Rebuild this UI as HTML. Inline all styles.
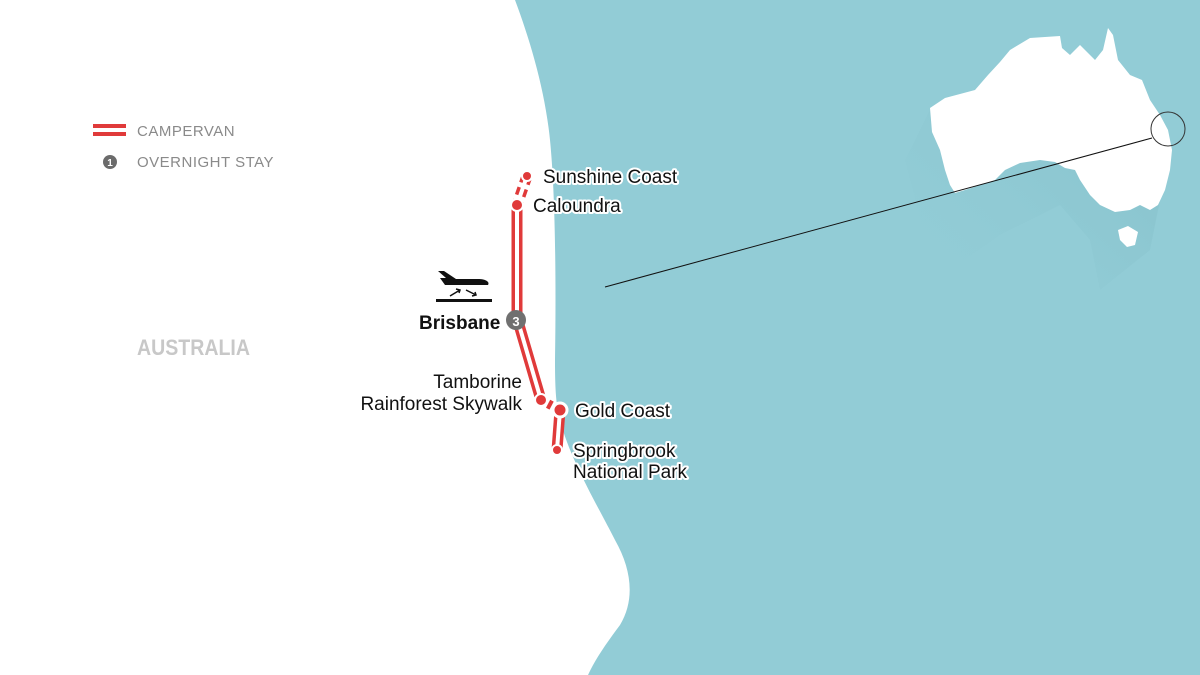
<!DOCTYPE html>
<html><head><meta charset="utf-8"><style>
html,body{margin:0;padding:0;background:#fff}
svg{display:block}
.l{font-family:"Liberation Sans Narrow","Liberation Sans",sans-serif;font-size:19px;fill:#111;paint-order:stroke;stroke:#fff;stroke-width:4px;stroke-linejoin:round}
.g{font-family:"Liberation Sans",sans-serif;font-size:15px;fill:#8a8a8a;letter-spacing:0.5px}
</style></head><body>
<svg width="1200" height="675" viewBox="0 0 1200 675" xmlns="http://www.w3.org/2000/svg">
<defs>
<linearGradient id="sh" x1="1" y1="0" x2="0" y2="1">
<stop offset="0" stop-color="#5f9aa4" stop-opacity="0.5"/>
<stop offset="1" stop-color="#8fccd6" stop-opacity="0"/>
</linearGradient>
</defs>
<rect width="1200" height="675" fill="#fff"/>
<path d="M515,0 C530,40 545,90 550,140 C556,200 556,300 555,360 C555,390 556,405 560,420 C570,460 600,510 615,540 C632,570 635,600 620,625 C605,645 595,660 588,675 L1200,675 L1200,0 Z" fill="#92ccd6"/>
<!-- mini Australia shadow -->
<path d="M930,110 L905,160 L925,240 L965,260 L1000,235 L1060,205 L1090,240 L1100,290 L1150,250 L1160,200 L1120,130 L1060,60 Z" fill="url(#sh)" opacity="0.55"/>
<!-- mini Australia -->
<path d="M930,108 L945,98 L975,90 L988,75 L1000,62 L1010,50 L1030,38 L1045,37 L1060,36 L1062,48 L1070,55 L1080,45 L1095,60 L1103,50 L1108,28 L1113,35 L1118,60 L1130,75 L1142,80 L1150,100 L1160,115 L1168,130 L1172,150 L1170,170 L1165,190 L1158,205 L1150,210 L1140,205 L1130,210 L1115,212 L1100,205 L1090,195 L1080,180 L1075,170 L1065,168 L1055,162 L1040,160 L1020,163 L1005,170 L995,180 L980,185 L965,190 L955,193 L950,185 L945,170 L940,150 L932,132 Z" fill="#fff"/>
<path d="M1118,230 L1128,226 L1138,232 L1135,245 L1127,247 L1120,240 Z" fill="#fff"/>
<circle cx="1168" cy="129" r="17" fill="none" stroke="#333" stroke-width="1"/>
<line x1="605" y1="287" x2="1152" y2="138" stroke="#111" stroke-width="1"/>
<!-- legend -->
<rect x="93" y="124" width="33" height="4" fill="#e03a3a"/>
<rect x="93" y="132" width="33" height="4" fill="#e03a3a"/>
<text class="g" x="137" y="136">CAMPERVAN</text>
<circle cx="110" cy="162" r="7" fill="#6b6b6b"/>
<text x="110" y="166" font-family="Liberation Sans" font-size="10" font-weight="bold" fill="#fff" text-anchor="middle">1</text>
<text class="g" x="137" y="167">OVERNIGHT STAY</text>
<text x="137" y="355" font-family="Liberation Sans,sans-serif" font-weight="bold" font-size="22" fill="#c8c8c8" textLength="113" lengthAdjust="spacingAndGlyphs">AUSTRALIA</text>
<!-- route -->
<g fill="none" stroke-linejoin="round">
<path d="M517,205 L517,318 L541,400" stroke="#e03a3a" stroke-width="11"/>
<path d="M517,205 L517,318 L541,400" stroke="#fff" stroke-width="4"/>
<path d="M560,410 L557,450" stroke="#e03a3a" stroke-width="11"/>
<path d="M560,410 L557,450" stroke="#fff" stroke-width="4"/>
<path d="M527,176 L517,205" stroke="#e03a3a" stroke-width="11" stroke-dasharray="8,5"/>
<path d="M527,176 L517,205" stroke="#fff" stroke-width="4"/>
<path d="M541,400 L560,410" stroke="#e03a3a" stroke-width="9" stroke-dasharray="4,4"/>
</g>
<g fill="#e03a3a" stroke="#fff" stroke-width="2">
<circle cx="527" cy="176" r="5"/>
<circle cx="517" cy="205" r="6"/>
<circle cx="541" cy="400" r="6"/>
<circle cx="560" cy="410" r="7" stroke-width="3"/>
<circle cx="557" cy="450" r="5"/>
</g>
<circle cx="516" cy="320" r="10" fill="#707070"/>
<text x="516" y="326" font-family="Liberation Sans" font-size="13" font-weight="bold" fill="#fff" text-anchor="middle">3</text>
<!-- plane -->
<g fill="#111">
<path d="M438,271 L444,271 L456,279 L478,279 C486,279 490,282 488,285 L445,285 L440,278 L446,278 Z"/>
<rect x="436" y="299" width="56" height="3"/>
<path d="M450,296 L460,290 M456,289 L460,290 L459,293" stroke="#111" stroke-width="1.5" fill="none"/>
<path d="M466,290 L476,295 M472,296 L476,295 L475,292" stroke="#111" stroke-width="1.5" fill="none"/>
</g>
<text class="l" x="419" y="329" font-weight="bold" font-size="21">Brisbane</text>
<text class="l" x="543" y="183">Sunshine Coast</text>
<text class="l" x="533" y="212">Caloundra</text>
<text class="l" x="522" y="388" text-anchor="end">Tamborine</text>
<text class="l" x="522" y="410" text-anchor="end">Rainforest Skywalk</text>
<text class="l" x="575" y="417">Gold Coast</text>
<text class="l" x="573" y="457">Springbrook</text>
<text class="l" x="573" y="478">National Park</text>
</svg>
</body></html>
